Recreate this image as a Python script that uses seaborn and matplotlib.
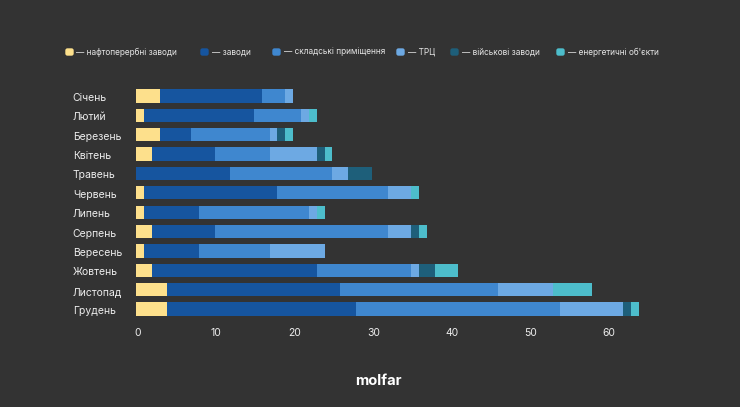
"""Stacked bars of strikes per month, dark background."""
import numpy as np
import pandas as pd
import matplotlib
matplotlib.use('Agg')
import matplotlib.pyplot as plt
from matplotlib.patches import FancyBboxPatch
from matplotlib.transforms import Affine2D, ScaledTranslation
import seaborn as sns

months = ['Січень', 'Лютий', 'Березень', 'Квітень', 'Травень', 'Червень',
          'Липень', 'Серпень', 'Вересень', 'Жовтень', 'Листопад', 'Грудень']
refineries = [3, 1, 3, 2, 0, 1, 1, 2, 1, 2, 4, 4]
factories = [13, 14, 4, 8, 12, 17, 7, 8, 7, 21, 22, 24]
warehouses = [3, 6, 10, 7, 13, 14, 14, 22, 9, 12, 20, 26]
malls = [1, 1, 1, 6, 2, 3, 1, 3, 7, 1, 7, 8]
military = [0, 0, 1, 1, 3, 0, 0, 1, 0, 2, 0, 1]
energy = [0, 1, 1, 1, 0, 1, 1, 1, 0, 3, 5, 1]

series = [refineries, factories, warehouses, malls, military, energy]
labels = ['— нафтоперербні заводи', '— заводи', '— складські приміщення',
          '— ТРЦ', '— військові заводи', '— енергетичні об\'єкти']
colors = ['#FDE08C', '#16559F', '#3F87CF', '#6DA9E3', '#1E5F7A', '#4DBDCB']
legend_x = [65, 200, 272, 396, 450, 556]

BG = '#333333'
W, H = 740, 407

sns.set_theme(style='dark')
plt.rcParams['font.family'] = ['Inter', 'DejaVu Sans']

fig = plt.figure(figsize=(W / 100, H / 100), dpi=100, facecolor=BG)
ax = fig.add_axes([136 / W, 1 - 318.7 / H, 503 / W, 232.4 / H], facecolor=BG)

# cumulative totals, longest drawn first so the shorter ones sit on top
totals = np.cumsum(np.array(series), axis=0)
for i in range(len(series) - 1, -1, -1):
    df = pd.DataFrame({'month': months, 'value': totals[i]})
    sns.barplot(data=df, x='value', y='month', order=months, color=colors[i],
                saturation=1, width=0.68, linewidth=0, ax=ax)

ax.set_xlim(0, 64)
ax.set_ylim(11.5, -0.5)
ax.set_xlabel('')
ax.set_ylabel('')
ax.set_xticks(range(0, 70, 10))
sns.despine(ax=ax, left=True, bottom=True)
ax.grid(False)
ax.tick_params(axis='x', length=0, pad=7, labelsize=7.5, labelcolor='#EDEDED')
ax.tick_params(axis='y', length=0, pad=45.5, labelsize=7.5, labelcolor='#EDEDED')
for t in ax.get_yticklabels():
    t.set_ha('left')
    t.set_transform(t.get_transform() + ScaledTranslation(0, -0.01, fig.dpi_scale_trans))
for t in ax.get_xticklabels():
    t.set_transform(t.get_transform() + ScaledTranslation(0.015, 0, fig.dpi_scale_trans))

# legend is placed by hand, one swatch and label per series
flip = Affine2D().scale(1, -1).translate(0, H)
for x, c, lab in zip(legend_x, colors, labels):
    box = FancyBboxPatch((x + 1, 49), 7, 6, boxstyle='round,pad=0,rounding_size=1.5',
                         facecolor=c, edgecolor=c, linewidth=1)
    box.set_transform(flip)
    fig.add_artist(box)
    fig.text((x + 11.5) / W, 1 - 52 / H, lab, color='#E6E6E6', fontsize=5.95,
             va='center', ha='left')

fig.text(378 / W, 1 - 381 / H, 'molfar', color='white', fontsize=10.5,
         fontweight='bold', ha='center', va='center')

fig.savefig('out.png', dpi=100, facecolor=BG)
